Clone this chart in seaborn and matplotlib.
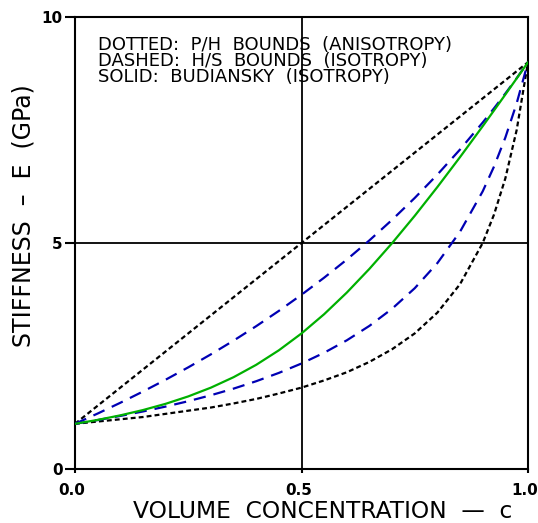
import numpy as np
import pandas as pd
import matplotlib
matplotlib.use("Agg")
import matplotlib.pyplot as plt
from matplotlib.transforms import ScaledTranslation
import seaborn as sns

# Volume concentration of the stiff phase
conc = [0, 0.05, 0.1, 0.15, 0.2, 0.25, 0.3, 0.35, 0.4, 0.45, 0.5, 0.55,
        0.6, 0.65, 0.7, 0.75, 0.8, 0.85, 0.9, 0.925, 0.95, 0.975, 1.0]

# Young's modulus E (GPa) for each model
ph_upper = [1.0, 1.4, 1.8, 2.2, 2.6, 3.0, 3.4, 3.8, 4.2, 4.6, 5.0, 5.4,
            5.8, 6.2, 6.6, 7.0, 7.4, 7.8, 8.2, 8.4, 8.6, 8.8, 9.0]
ph_lower = [1.00, 1.05, 1.10, 1.15, 1.22, 1.29, 1.36, 1.45, 1.55, 1.67, 1.80, 1.96,
            2.14, 2.37, 2.65, 3.00, 3.46, 4.09, 5.00, 5.63, 6.43, 7.50, 9.00]
hs_upper = [1.000, 1.227, 1.465, 1.714, 1.975, 2.249, 2.537, 2.840, 3.160, 3.498, 3.855, 4.233,
            4.633, 5.059, 5.513, 5.997, 6.514, 7.069, 7.665, 7.980, 8.307, 8.646, 9.000]
hs_lower = [1.000, 1.083, 1.174, 1.273, 1.381, 1.500, 1.632, 1.778, 1.942, 2.126, 2.334, 2.572,
            2.847, 3.167, 3.546, 4.000, 4.556, 5.250, 6.143, 6.692, 7.333, 8.091, 9.000]
budiansky = [1.000, 1.086, 1.187, 1.304, 1.442, 1.606, 1.800, 2.031, 2.305, 2.626, 2.999, 3.425,
             3.903, 4.429, 4.997, 5.602, 6.239, 6.901, 7.584, 7.933, 8.285, 8.641, 9.000]

x_ticks = [0, 0.5, 1.0]
x_tick_labels = ["0.0", "0.5", "1.0"]
y_ticks = [0, 5, 10]
y_tick_labels = ["0", "5", "10"]

legend_lines = ["DOTTED:  P/H  BOUNDS  (ANISOTROPY)",
                "DASHED:  H/S  BOUNDS  (ISOTROPY)",
                "SOLID:  BUDIANSKY  (ISOTROPY)"]

df = pd.DataFrame({"c": conc, "ph_upper": ph_upper, "ph_lower": ph_lower,
                   "hs_upper": hs_upper, "hs_lower": hs_lower, "budiansky": budiansky})

sns.set_style("ticks")
plt.rcParams["font.family"] = ["DejaVu Sans"]

fig = plt.figure(figsize=(5.38, 5.23), dpi=100)
ax = fig.add_axes([75/538, 1-469/523, 453/538, 452/523])

black = "#000000"
blue = "#0000b4"
green = "#00b000"
dotted = (0, (2.2, 1.4))
dashed = (0, (5.5, 3.6))

# crosshair at the midpoints
ax.axvline(0.5, color=black, lw=1.3, zorder=1)
ax.axhline(5, color=black, lw=1.3, zorder=1)

for col, color, ls in [("ph_upper", black, dotted), ("ph_lower", black, dotted),
                       ("hs_upper", blue, dashed), ("hs_lower", blue, dashed),
                       ("budiansky", green, "-")]:
    sns.lineplot(data=df, x="c", y=col, ax=ax, color=color, linestyle=ls,
                 lw=1.6, estimator=None, sort=False, zorder=3)

ax.set_xlim(0, 1)
ax.set_ylim(0, 10)
ax.set_xticks(x_ticks)
ax.set_xticklabels(x_tick_labels)
ax.set_yticks(y_ticks)
ax.set_yticklabels(y_tick_labels)
for s in ax.spines.values():
    s.set_linewidth(1.5)
    s.set_color(black)
ax.tick_params(axis="x", direction="out", length=3, width=1.5, pad=7,
               labelsize=11, colors=black)
ax.tick_params(axis="y", direction="out", length=7, width=1.5, pad=2,
               labelsize=11, colors=black)
shift = ScaledTranslation(-3/100, 0, fig.dpi_scale_trans)
for lab in ax.get_xticklabels():
    lab.set_fontweight("bold")
    lab.set_transform(lab.get_transform() + shift)
for lab in ax.get_yticklabels():
    lab.set_fontweight("bold")

ax.set_xlabel("VOLUME  CONCENTRATION  —  c", fontsize=16.8, color=black)
ax.xaxis.set_label_coords(0.547, -0.093)
ax.xaxis.label.set_va("center")
ax.set_ylabel("STIFFNESS  –  E  (GPa)", fontsize=17, color=black)
ax.yaxis.set_label_coords(-0.113, 0.561)
ax.yaxis.label.set_va("center")

for txt, yb in zip(legend_lines, [0.927, 0.8905, 0.857]):
    ax.text(0.0508, yb, txt, transform=ax.transAxes, fontsize=13,
            va="baseline", ha="left", color=black)

fig.savefig("out.png", dpi=100)
